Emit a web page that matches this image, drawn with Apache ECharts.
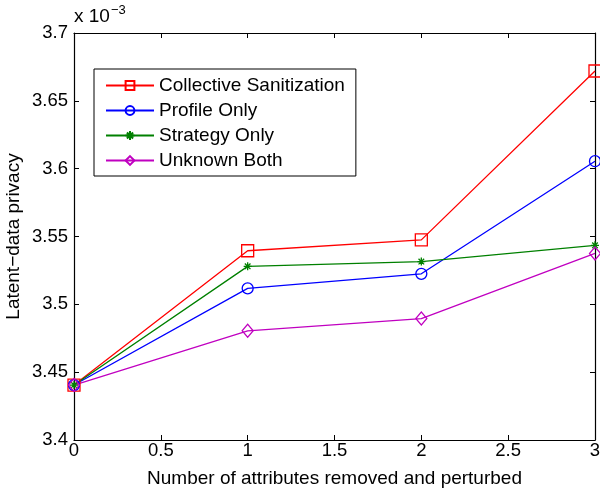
<!DOCTYPE html>
<html>
<head>
<meta charset="utf-8">
<script src="https://cdn.jsdelivr.net/npm/echarts@6/dist/echarts.min.js"></script>
<style>
  html, body { margin: 0; padding: 0; background: #fff; }
  #chart { width: 600px; height: 493px; }
</style>
</head>
<body>
<div id="chart"></div>
<script>
// Latent-data privacy (in units of 1e-3) versus number of attributes removed and perturbed
const xValues = [0, 1, 2, 3];
const seriesNames = ['Collective Sanitization', 'Profile Only', 'Strategy Only', 'Unknown Both'];
const collective = [3.4405, 3.5395, 3.5475, 3.672];
const profileOnly = [3.4405, 3.5118, 3.5225, 3.6055];
const strategyOnly = [3.4405, 3.528, 3.5315, 3.5435];
const unknownBoth = [3.4405, 3.4805, 3.4895, 3.5375];

const FONT = '"Liberation Sans", Arial, Helvetica, sans-serif';
const asterisk = 'path://M5,0L5,10M0,5L10,5M1.5,1.5L8.5,8.5M1.5,8.5L8.5,1.5';

function pairs(vals) {
  return xValues.map((x, i) => [x, vals[i]]);
}

function makeSeries(name, vals, color, symbol, size) {
  return {
    name: name,
    type: 'line',
    data: pairs(vals),
    symbol: symbol,
    symbolSize: size,
    lineStyle: { color: color, width: 1.3 },
    itemStyle: { color: 'rgba(0,0,0,0)', borderColor: color, borderWidth: 1.3 },
    emphasis: { disabled: true },
    animation: false
  };
}

const chart = echarts.init(document.getElementById('chart'), null, { renderer: 'canvas' });

const tickCommon = { show: true, inside: true, length: 5, lineStyle: { color: '#000', width: 1 } };
const axisLineCommon = { show: true, onZero: false, lineStyle: { color: '#000', width: 1.2 } };

chart.setOption({
  backgroundColor: '#fff',
  textStyle: { fontFamily: FONT },
  grid: { left: 74, right: 5, top: 33, bottom: 53, containLabel: false, outerBoundsMode: 'none' },
  legend: {
    orient: 'vertical',
    left: 94,
    top: 69,
    data: seriesNames,
    itemWidth: 48,
    itemHeight: 11,
    itemGap: 6,
    itemTextGap: 6,
    padding: [7, 11, 6, 11],
    borderColor: '#000',
    borderWidth: 1,
    backgroundColor: '#fff',
    textStyle: { fontFamily: FONT, fontSize: 19, color: '#000' }
  },
  xAxis: [{
    type: 'value',
    min: 0, max: 3, interval: 0.5,
    name: 'Number of attributes removed and perturbed',
    nameLocation: 'middle',
    nameGap: 29,
    nameMoveOverlap: false,
    nameTextStyle: { fontFamily: FONT, fontSize: 19, color: '#000' },
    axisLine: axisLineCommon,
    axisTick: tickCommon,
    axisLabel: { fontFamily: FONT, fontSize: 18.5, color: '#000', margin: 1 },
    splitLine: { show: false }
  }, {
    type: 'value',
    position: 'top',
    min: 0, max: 3, interval: 0.5,
    axisLine: axisLineCommon,
    axisTick: tickCommon,
    axisLabel: { show: false },
    splitLine: { show: false }
  }],
  yAxis: [{
    type: 'value',
    min: 3.4, max: 3.7, interval: 0.05,
    name: 'Latent\u2212data privacy',
    nameLocation: 'middle',
    nameGap: 51,
    nameMoveOverlap: false,
    nameTextStyle: { fontFamily: FONT, fontSize: 19, color: '#000' },
    axisLine: axisLineCommon,
    axisTick: tickCommon,
    axisLabel: { fontFamily: FONT, fontSize: 18.5, color: '#000', margin: 6 },
    splitLine: { show: false }
  }, {
    type: 'value',
    position: 'right',
    min: 3.4, max: 3.7, interval: 0.05,
    axisLine: axisLineCommon,
    axisTick: tickCommon,
    axisLabel: { show: false },
    splitLine: { show: false }
  }],
  graphic: [{
    type: 'text',
    left: 74,
    top: 4,
    style: {
      text: '{b|x 10}{s|\u22123}',
      fill: '#000',
      rich: {
        b: { fontFamily: FONT, fontSize: 19, padding: [8, 0, 0, 0] },
        s: { fontFamily: FONT, fontSize: 13, padding: [0, 0, 5, 1] }
      }
    }
  }],
  series: [
    makeSeries(seriesNames[0], collective, '#ff0000', 'rect', 12),
    makeSeries(seriesNames[1], profileOnly, '#0000ff', 'circle', 11),
    makeSeries(seriesNames[2], strategyOnly, '#008000', asterisk, 8),
    makeSeries(seriesNames[3], unknownBoth, '#c000c0', 'diamond', [11, 13])
  ]
});
</script>
</body>
</html>
